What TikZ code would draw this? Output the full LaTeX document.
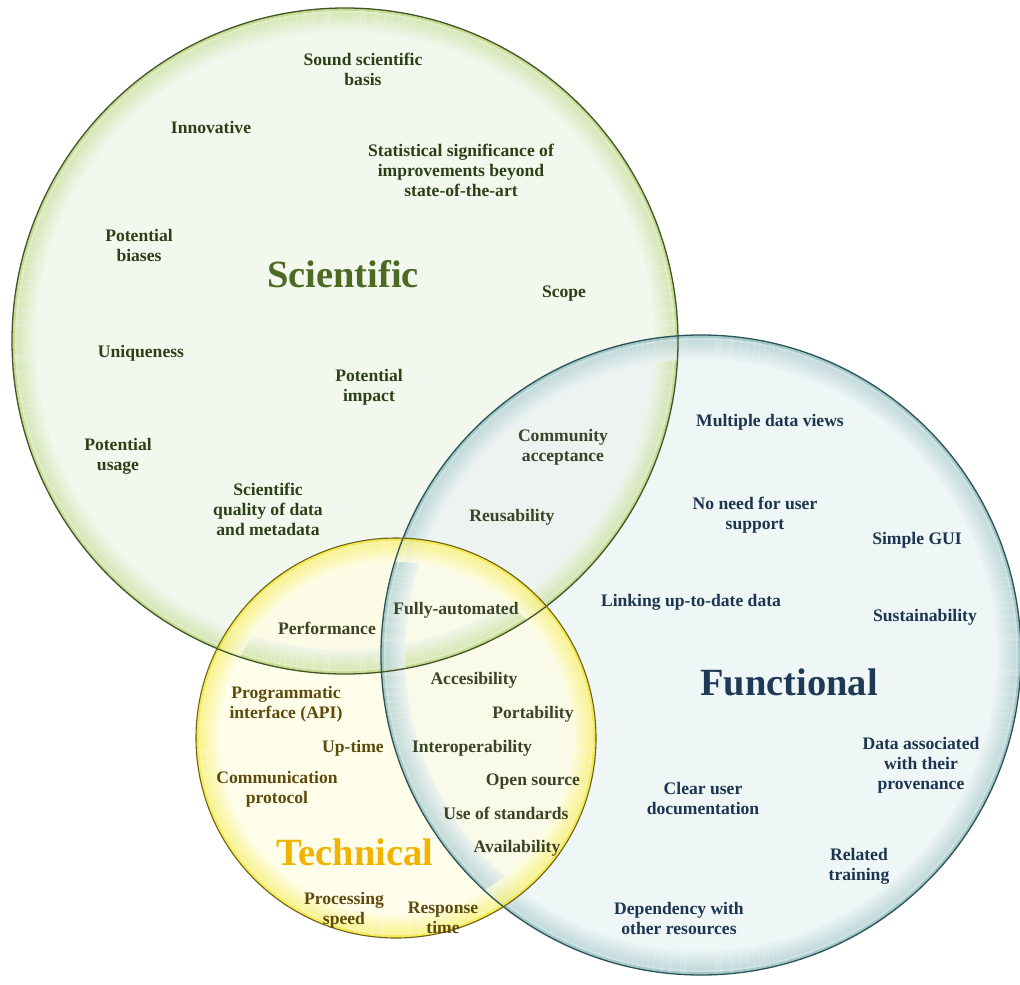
\documentclass[tikz,border=0pt]{standalone}
\usepackage{fontspec}
\setmainfont{Liberation Serif}
\definecolor{sciA}{HTML}{EFF5E9}
\definecolor{sciC}{HTML}{B9D77C}
\definecolor{funA}{HTML}{E9F2F2}
\definecolor{funC}{HTML}{92BDBF}
\definecolor{tecA}{HTML}{FFFDE3}
\definecolor{tecC}{HTML}{F2E832}
\definecolor{sciLine}{HTML}{44542A}
\definecolor{funLine}{HTML}{2C5358}
\definecolor{tecLine}{HTML}{6E6018}
\definecolor{sciText}{HTML}{2C4016}
\definecolor{sciTitle}{HTML}{4D6A22}
\definecolor{funText}{HTML}{1C3550}
\definecolor{funTitle}{HTML}{1E3A56}
\definecolor{tecText}{HTML}{5E4B0C}
\definecolor{tecTitle}{HTML}{F0B400}
\definecolor{mixText}{HTML}{3A4426}
\newcommand\drawrimring[4]{%
  \foreach \i in {1,...,24}{%
    \pgfmathsetmacro\rr{#2-\i+0.5}%
    \ifnum\i<4 \def\cc{#3}\else\ifnum\i<6 \def\cc{white!50!#3}\else
      \pgfmathtruncatemacro\pp{54-(\i-6)*3}\edef\cc{#3!\pp!#4}\fi\fi
    \draw[draw=\cc, line width=1.1pt, opacity=0.78] (#1) circle[radius=\rr];
  }}
\begin{document}
\begin{tikzpicture}[x=1pt,y=-1pt,
  ring/.style={circle, inner sep=0pt, fill opacity=0.72},
  edge/.style={circle, inner sep=0pt, line width=1.3pt},
  lbl/.style={align=center, inner sep=1pt, font=\bfseries\fontsize{17.6}{20}\selectfont},
  title/.style={inner sep=1pt, font=\bfseries\fontsize{38.5}{40}\selectfont},
  sci/.style={lbl, text=sciText},
  fun/.style={lbl, text=funText},
  tec/.style={lbl, text=tecText},
  mix/.style={lbl, text=mixText}]
\useasboundingbox (0,0) rectangle (1020,985);
% circle fills
\node[ring, minimum size=666pt, fill=sciA] (scic) at (345,341) {};
\node[ring, minimum size=640pt, fill=funA] (func) at (701,655) {};
\node[ring, minimum size=400pt, fill=tecA] (tecc) at (396,738) {};
% rims
\drawrimring{scic}{333}{sciC}{sciA}
\drawrimring{func}{320}{funC}{funA}
\drawrimring{tecc}{200}{tecC}{tecA}
% borders
\node[edge, minimum size=666pt, draw=sciLine] (scib) at (scic) {};
\node[edge, minimum size=640pt, draw=funLine] (funb) at (func) {};
\node[edge, minimum size=400pt, draw=tecLine, line width=1.1pt] (tecb) at (tecc) {};
% titles
\node[title, text=sciTitle] (tsci) at (343,274) {Scientific};
\node[title, text=funTitle] (tfun) at (789,682) {Functional};
\node[title, text=tecTitle] (ttec) at (355,852) {Technical};
% scientific
\node[sci] (s1) at (363,69) {Sound scientific\\basis};
\node[sci] (s2) at (211,127) {Innovative};
\node[sci] (s3) at (461,170) {Statistical significance of\\improvements beyond\\state-of-the-art};
\node[sci] (s4) at (139,245) {Potential\\biases};
\node[sci] (s5) at (564,294) {Scope};
\node[sci] (s6) at (141,353) {Uniqueness};
\node[sci] (s7) at (369,387) {Potential\\impact};
\node[sci] (s8) at (118,456) {Potential\\usage};
\node[sci] (s9) at (268,509) {Scientific\\quality of data\\and metadata};
\node[mix] (m1) at (563,447) {Community\\acceptance};
\node[mix] (m2) at (512,517) {Reusability};
\node[mix] (m3) at (327,628) {Performance};
\node[mix] (m4) at (456,610) {Fully-automated};
% functional
\node[fun] (f1) at (770,422) {Multiple data views};
\node[fun] (f2) at (755,515) {No need for user\\support};
\node[fun] (f3) at (917,540) {Simple GUI};
\node[fun] (f4) at (691,602) {Linking up-to-date data};
\node[fun] (f5) at (925,617) {Sustainability};
\node[fun] (f6) at (921,765) {Data associated\\with their\\provenance};
\node[fun] (f7) at (703,798) {Clear user\\documentation};
\node[fun] (f8) at (859,866) {Related\\training};
\node[fun] (f9) at (679,918) {Dependency with\\other resources};
% technical & functional
\node[mix] (x1) at (474,680) {Accesibility};
\node[mix] (x2) at (533,714) {Portability};
\node[mix] (x3) at (472,748) {Interoperability};
\node[mix] (x4) at (533,782) {Open source};
\node[mix] (x5) at (506,813) {Use of standards};
\node[mix] (x6) at (517,848) {Availability};
% technical
\node[tec] (t1) at (286,704) {Programmatic\\interface (API)};
\node[tec] (t2) at (353,748) {Up-time};
\node[tec] (t3) at (277,789) {Communication\\protocol};
\node[tec] (t4) at (344,910) {Processing\\speed};
\node[tec] (t5) at (443,918) {Response\\time};
\end{tikzpicture}
\end{document}
